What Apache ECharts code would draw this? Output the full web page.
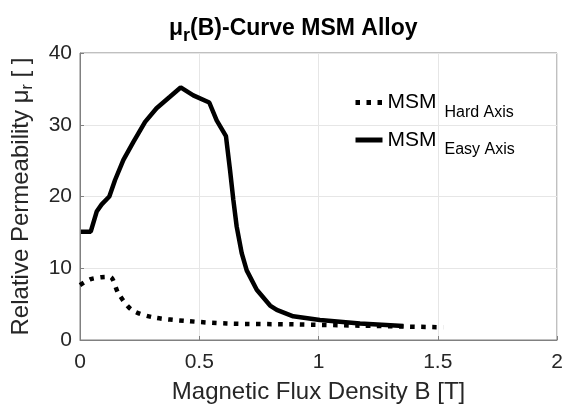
<!DOCTYPE html>
<html style="height: 100%">
	<head>
		<meta charset="utf-8">
	</head>
	<body style="height: 100%; margin: 0">
		<div id="container" style="width: 563px; height: 408px"></div>
		<script type="text/javascript" src="https://cdn.jsdelivr.net/npm/echarts@6/dist/echarts.min.js"></script>
		<script type="text/javascript">
			var dom = document.getElementById("container");
			var myChart = echarts.init(dom);

			// easy axis (solid)
			const easyB = [0.004, 0.045, 0.07, 0.091, 0.123, 0.147, 0.182, 0.224, 0.273, 0.321, 0.377, 0.422, 0.475, 0.542, 0.573, 0.612, 0.629, 0.643, 0.657, 0.678, 0.699, 0.741, 0.797, 0.825, 0.894, 1.006, 1.174, 1.356];
			const easyMu = [15.1, 15.1, 17.9, 18.9, 20.0, 22.3, 25.1, 27.6, 30.4, 32.3, 33.9, 35.2, 34.1, 33.1, 30.6, 28.4, 23.7, 19.5, 15.8, 12.1, 9.7, 7.0, 4.8, 4.2, 3.3, 2.8, 2.3, 1.95];
			// hard axis (dotted)
			const hardB = [0, 0.042, 0.09, 0.126, 0.161, 0.217, 0.307, 0.447, 0.615, 0.894, 1.174, 1.523];
			const hardMu = [7.66, 8.45, 8.75, 8.8, 6.5, 4.2, 3.16, 2.65, 2.3, 2.18, 2.0, 1.77];

			const xTicks = [0, 0.5, 1, 1.5, 2];
			const yTicks = [0, 10, 20, 30, 40];

			function pairs(xs, ys) {
				return xs.map(function(x, i) { return [x, ys[i]]; });
			}

			var labelColor = '#262626';
			var axisGray = '#808080';
			var font = 'Liberation Sans';

			var option = {
				animation: false,
				title: {
					text: '{m|\u03bc}{s|r}{m|(B)-Curve MSM Alloy}',
					left: 164,
					top: 8,
					textStyle: {
						rich: {
							m: { fontFamily: font, fontWeight: 'bold', fontSize: 23, color: '#000' },
							s: { fontFamily: font, fontWeight: 'bold', fontSize: 18, color: '#000', padding: [14, 0, 0, 0] }
						}
					}
				},
				legend: {
					left: 353,
					top: 92,
					padding: 0,
					orient: 'vertical',
					itemWidth: 27,
					itemHeight: 14,
					itemGap: 9,
					data: ['hard', 'easy'],
					itemStyle: { opacity: 0 },
					lineStyle: { width: 5 },
					formatter: function(name) {
						return name === 'hard' ? '{a|MSM}{b|Hard Axis}' : '{a|MSM}{b|Easy Axis}';
					},
					textStyle: {
						rich: {
							a: { fontFamily: font, fontSize: 21, color: '#000' },
							b: { fontFamily: font, fontSize: 16, color: '#000', padding: [20, 0, 0, 8] }
						}
					}
				},
				grid: {
					left: 80,
					right: 6,
					top: 53,
					bottom: 68,
					outerBoundsMode: 'none'
				},
				xAxis: {
					type: 'value',
					min: 0,
					max: 2,
					interval: 0.5,
					name: 'Magnetic Flux Density B [T]',
					nameLocation: 'middle',
					nameGap: 40,
					nameTextStyle: { fontFamily: font, fontSize: 24, color: labelColor },
					axisLine: { show: true, onZero: false, lineStyle: { color: axisGray } },
					axisTick: { show: true, inside: true, length: 4, lineStyle: { color: axisGray } },
					axisLabel: {
						fontFamily: font, fontSize: 21, color: labelColor, margin: 12,
						formatter: function(v) { return xTicks.indexOf(v) >= 0 ? String(v) : ''; }
					},
					splitLine: { show: true, lineStyle: { color: '#e6e6e6' } }
				},
				yAxis: {
					type: 'value',
					min: 0,
					max: 40,
					interval: 10,
					name: '{m|Relative Permeability \u03bc}{s|r}{m| [ ]}',
					nameLocation: 'middle',
					nameGap: 44,
					nameTextStyle: {
						rich: {
							m: { fontFamily: font, fontSize: 24, color: labelColor },
							s: { fontFamily: font, fontSize: 16, color: labelColor, padding: [14, 0, 0, 0] }
						}
					},
					axisLine: { show: true, lineStyle: { color: axisGray } },
					axisTick: { show: true, inside: true, length: 4, lineStyle: { color: axisGray } },
					axisLabel: {
						fontFamily: font, fontSize: 21, color: labelColor, margin: 8,
						formatter: function(v) { return yTicks.indexOf(v) >= 0 ? String(v) : ''; }
					},
					splitLine: { show: true, lineStyle: { color: '#e6e6e6' } }
				},
				series: [{
					name: 'hard',
					type: 'line',
					showSymbol: false,
					symbol: 'none',
					smooth: 0.3,
					data: pairs(hardB, hardMu),
					lineStyle: { color: '#000', width: 4.5, type: [4.5, 6.5] },
					itemStyle: { color: '#000' }
				}, {
					name: 'easy',
					type: 'line',
					showSymbol: false,
					symbol: 'none',
					data: pairs(easyB, easyMu),
					lineStyle: { color: '#000', width: 4.5, type: 'solid' },
					itemStyle: { color: '#000' }
				}],
				graphic: [{
					type: 'rect',
					shape: { x: 80, y: 53, width: 477, height: 287 },
					style: { fill: 'none', stroke: axisGray, lineWidth: 1 },
					silent: true
				}]
			};
			myChart.setOption(option);
		</script>
	</body>
</html>
